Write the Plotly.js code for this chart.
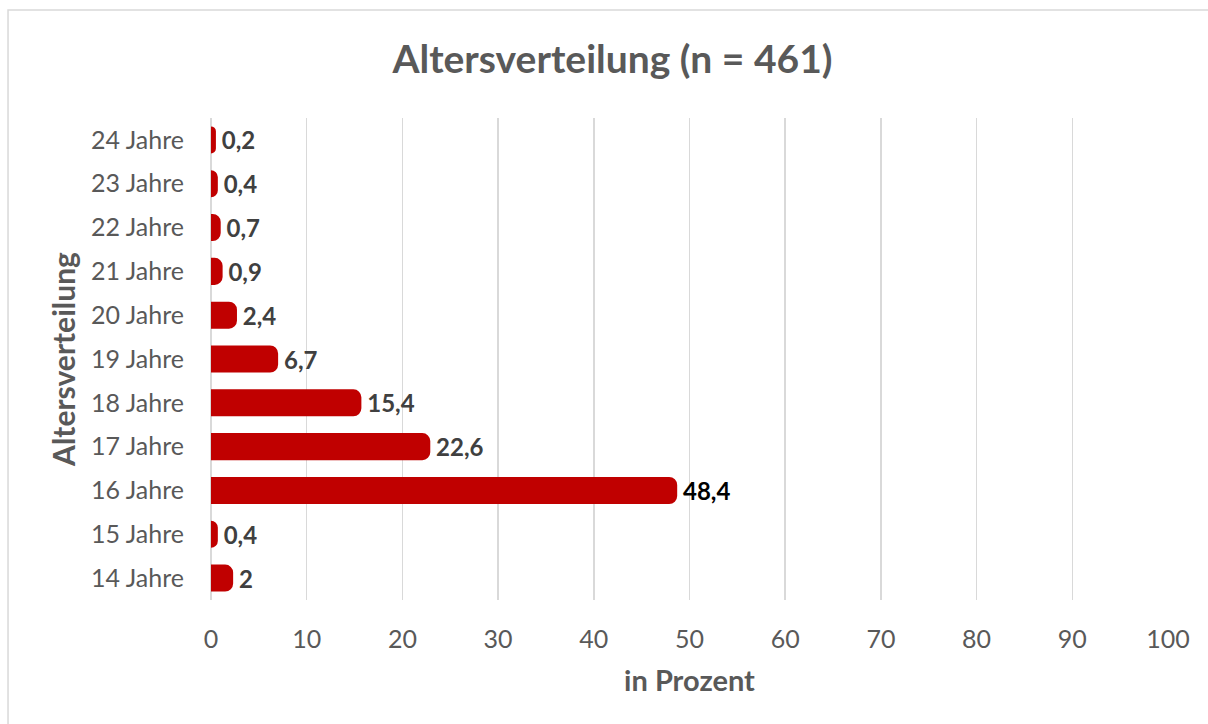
<!DOCTYPE html>
<html>
<head>
<meta charset="utf-8">
<script src="https://cdn.plot.ly/plotly-3.0.1.min.js"></script>
<style>
  html, body { margin: 0; padding: 0; background: #ffffff; }
  #chart { width: 1208px; height: 724px; }
</style>
</head>
<body>
<div id="chart"></div>
<script>
const categories = ["14 Jahre", "15 Jahre", "16 Jahre", "17 Jahre", "18 Jahre", "19 Jahre", "20 Jahre", "21 Jahre", "22 Jahre", "23 Jahre", "24 Jahre"];
const percentValues = [2, 0.4, 48.4, 22.6, 15.4, 6.7, 2.4, 0.9, 0.7, 0.4, 0.2];
const xTickValues = [0, 10, 20, 30, 40, 50, 60, 70, 80, 90, 100];

const labelTexts = percentValues.map(v => '\u00a0' + String(v).replace('.', ','));
const maxVal = Math.max(...percentValues);
const labelColors = percentValues.map(v => v === maxVal ? '#000000' : '#404040');

const FONT = 'Lato, "Open Sans", sans-serif';

const trace = {
  type: 'bar',
  orientation: 'h',
  x: percentValues,
  y: categories,
  text: labelTexts,
  textposition: 'outside',
  constraintext: 'none',
  cliponaxis: false,
  textfont: { family: FONT, size: 24, color: labelColors, weight: 'bold' },
  marker: { color: '#c00000', cornerradius: 5, line: { width: 6, color: '#c00000' } },
  width: 0.48,
  hoverinfo: 'skip'
};

const layout = {
  width: 1208,
  height: 724,
  margin: { l: 211, r: 40, t: 118, b: 124 },
  paper_bgcolor: '#ffffff',
  plot_bgcolor: '#ffffff',
  showlegend: false,
  title: {
    text: '<b>Altersverteilung (n = 461)</b>',
    font: { family: FONT, size: 39, color: '#595959' },
    x: 0.507, xanchor: 'center',
    y: 0.918, yanchor: 'middle'
  },
  xaxis: {
    range: [0, 100],
    tickvals: xTickValues,
    ticktext: xTickValues.map(String),
    showgrid: true,
    gridcolor: '#d9d9d9',
    gridwidth: 1.5,
    zeroline: true,
    zerolinecolor: '#d9d9d9',
    zerolinewidth: 1.5,
    showline: false,
    ticks: '',
    ticklabelstandoff: 22,
    tickfont: { family: FONT, size: 25, color: '#595959' },
    title: {
      text: '<b>in Prozent</b>',
      font: { family: FONT, size: 29, color: '#595959' },
      standoff: 18
    },
    fixedrange: true
  },
  yaxis: {
    type: 'category',
    categoryorder: 'array',
    categoryarray: categories,
    range: [-0.5, 10.5],
    showgrid: false,
    zeroline: false,
    showline: false,
    ticks: '',
    ticklabelstandoff: 26,
    tickfont: { family: FONT, size: 25, color: '#595959' },
    title: {
      text: '<b>Altersverteilung</b>',
      font: { family: FONT, size: 30, color: '#595959' },
      standoff: 6
    },
    fixedrange: true
  },
  shapes: [{
    type: 'rect',
    xref: 'paper', yref: 'paper',
    x0: -0.2121, x1: 1.2,
    y0: -0.5, y1: 1.2241,
    line: { color: '#d9d9d9', width: 1.5 },
    fillcolor: 'rgba(0,0,0,0)',
    layer: 'below'
  }]
};

Plotly.newPlot('chart', [trace], layout, { displayModeBar: false, staticPlot: true });
</script>
</body>
</html>
